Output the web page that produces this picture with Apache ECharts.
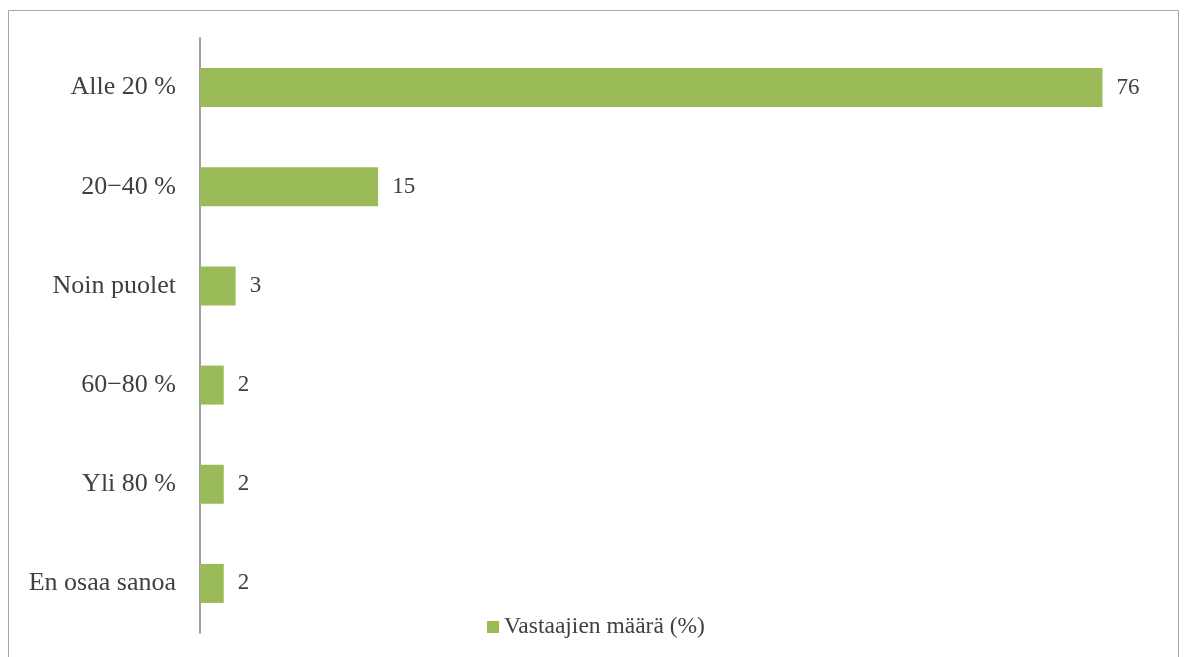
<!DOCTYPE html>
<html>
<head>
<meta charset="utf-8">
<script src="https://cdn.jsdelivr.net/npm/echarts@6/dist/echarts.min.js"></script>
<style>
  html, body { margin: 0; padding: 0; background: #ffffff; }
  #chart { width: 1184px; height: 657px; }
</style>
</head>
<body>
<div id="chart"></div>
<script>
// Share of respondents per answer option
const categories = ['Alle 20 %', '20\u221240 %', 'Noin puolet', '60\u221280 %', 'Yli 80 %', 'En osaa sanoa'];
const values = [76, 15, 3, 2, 2, 2];
const seriesName = 'Vastaajien määrä (%)';

const FONT = '"Liberation Serif", "DejaVu Serif", serif';
const TEXT = '#404040';
const BAR = '#9BBB59';

const chart = echarts.init(document.getElementById('chart'), null, { renderer: 'canvas' });

chart.setOption({
  animation: false,
  backgroundColor: '#ffffff',
  graphic: [{
    type: 'rect',
    shape: { x: 8.5, y: 10.5, width: 1170, height: 660 },
    style: { fill: 'none', stroke: '#a6a6a6', lineWidth: 1 },
    silent: true,
    z: -1
  }],
  grid: { left: 200, top: 38, bottom: 24, width: 950, containLabel: false },
  legend: {
    data: [seriesName],
    left: 482,
    top: 610,
    itemWidth: 12,
    itemHeight: 12,
    itemGap: 6,
    icon: 'rect',
    textStyle: { fontFamily: FONT, fontSize: 23.5, color: TEXT, padding: [0, 0, 0, 0] }
  },
  xAxis: {
    type: 'value',
    min: 0,
    max: 80,
    show: false
  },
  yAxis: {
    type: 'category',
    data: categories,
    inverse: true,
    axisLine: { show: true, lineStyle: { color: '#a0a0a0', width: 2 } },
    axisTick: { show: false },
    axisLabel: { fontFamily: FONT, fontSize: 26, color: TEXT, margin: 24 },
    splitLine: { show: false }
  },
  series: [{
    name: seriesName,
    type: 'bar',
    data: values,
    barWidth: 39,
    itemStyle: { color: BAR },
    label: {
      show: true,
      position: 'right',
      distance: 14,
      fontFamily: FONT,
      fontSize: 23,
      color: TEXT
    }
  }]
});
</script>
</body>
</html>
